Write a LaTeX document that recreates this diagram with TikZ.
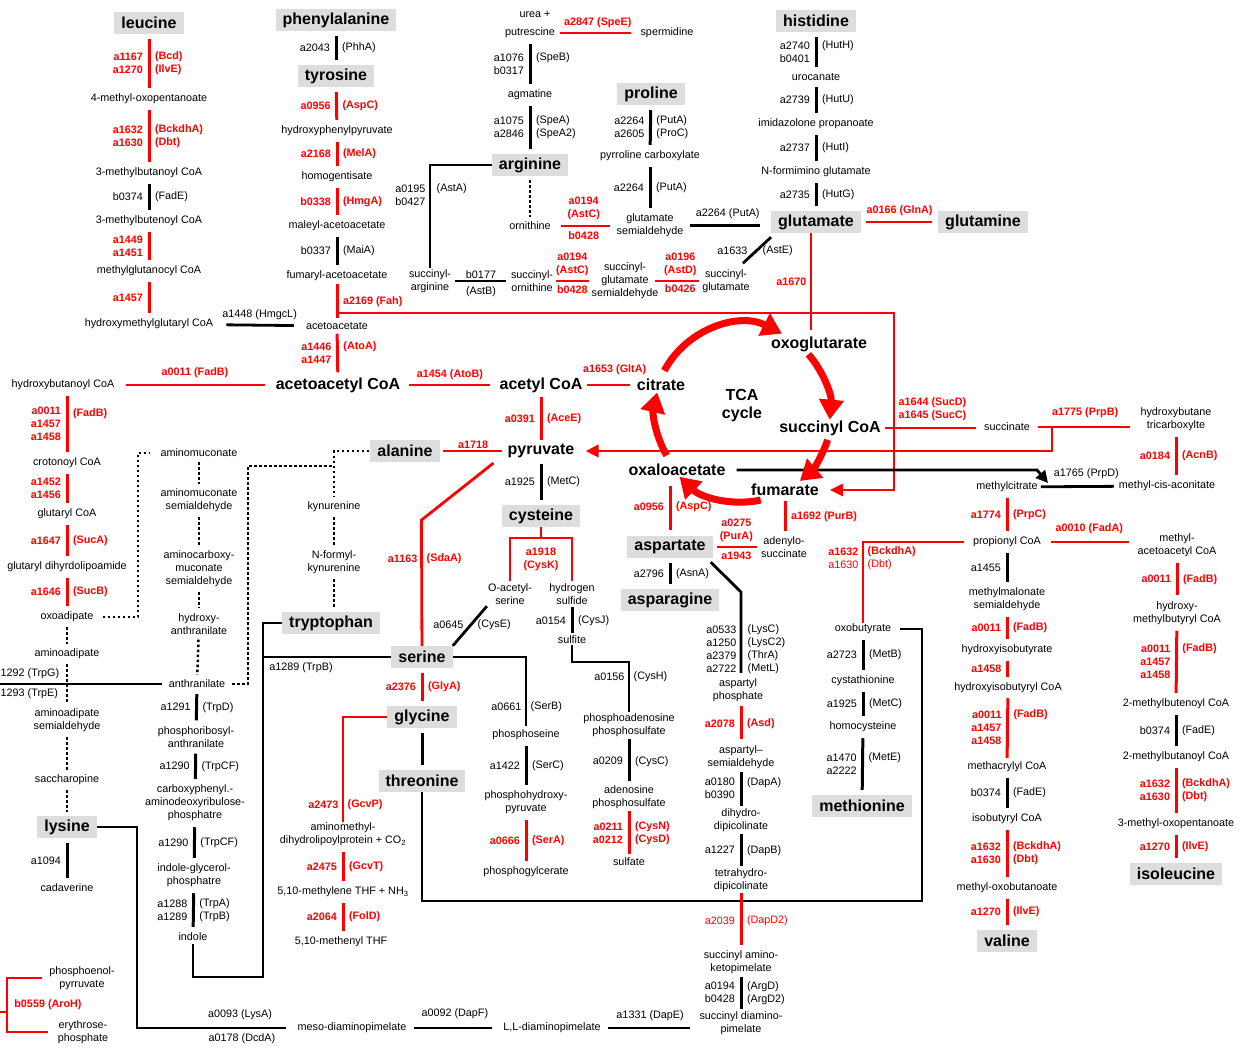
\documentclass[tikz,border=0pt]{standalone}
\usepackage{fontspec}
\setmainfont{Liberation Sans}
\usepackage{tikz}
\usetikzlibrary{arrows.meta}
\definecolor{pathred}{RGB}{255,0,0}
\definecolor{boxgray}{RGB}{221,221,221}
\tikzset{
  met/.style={font=\fontsize{10.8}{13}\selectfont, inner sep=1pt, align=center},
  amino/.style={fill=boxgray, font=\fontsize{16}{18}\selectfont\bfseries, inner xsep=7pt, inner ysep=0pt, minimum height=22pt},
  hub/.style={font=\fontsize{16}{18}\selectfont\bfseries, inner sep=1pt, align=center},
  lab/.style={font=\fontsize{10.8}{13}\selectfont, inner sep=0.5pt},
  rlab/.style={lab, text=pathred, font=\fontsize{10.8}{13}\selectfont\bfseries},
  gl/.style={lab, anchor=east, xshift=-4pt, align=right},
  gr/.style={lab, anchor=west, xshift=4pt, align=left},
  rl/.style={rlab, anchor=east, xshift=-4pt, align=right},
  rr/.style={rlab, anchor=west, xshift=4pt, align=left},
  rln/.style={rl, font=\fontsize{10.8}{13}\selectfont},
  rrn/.style={rr, font=\fontsize{10.8}{13}\selectfont},
  kline/.style={draw=black, line width=2.8pt},
  rline/.style={draw=pathred, line width=2.8pt},
  kbar/.style={kline, line width=3pt, shorten <=5pt, shorten >=5pt},
  rbar/.style={rline, line width=3pt, shorten <=5pt, shorten >=5pt},
  kh/.style={kline, shorten <=10pt, shorten >=10pt},
  rh/.style={rline, shorten <=10pt, shorten >=10pt},
  dots/.style={draw=black, line width=2.5pt, dash pattern=on 2.5pt off 2.5pt, shorten <=4pt, shorten >=4pt},
  tcaarc/.style={draw=pathred, line width=7pt, -{Triangle[length=20pt,width=24pt]}},
  redtip/.style={-{Triangle[length=13pt,width=12pt]}},
  blacktip/.style={-{Triangle[length=12pt,width=12pt]}},
}
\begin{document}
\begin{tikzpicture}[x=1pt, y=-1pt]
\useasboundingbox (0,0) rectangle (1245,1047);

% leucine
\node[amino] (leu) at (149,23) {leucine};
\node[met] (mop) at (149,99) {4-methyl-oxopentanoate};
\node[met] (mbcoa) at (149,173) {3-methylbutanoyl CoA};
\node[met] (mbecoa) at (149,221) {3-methylbutenoyl CoA};
\node[met] (mgcoa) at (149,271) {methylglutanocyl CoA};
\node[met] (hmgcoa) at (149,324) {hydroxymethylglutaryl CoA};

% phenylalanine / tyrosine
\node[amino] (phe) at (336,20) {phenylalanine};
\node[amino] (tyr) at (336,76) {tyrosine};
\node[met] (hpp) at (337,131) {hydroxyphenylpyruvate};
\node[met] (hgt) at (337,177) {homogentisate};
\node[met] (maa) at (337,226) {maleyl-acetoacetate};
\node[met] (faa) at (337,276) {fumaryl-acetoacetate};
\node[met] (aca) at (337,326) {acetoacetate};
\node[hub] (accoa) at (338,385) {acetoacetyl CoA};

% fatty acid side
\node[met] (hbcoa) at (63,385) {hydroxybutanoyl CoA};
\node[met] (crot) at (67,463) {crotonoyl CoA};
\node[met] (glcoa) at (67,514) {glutaryl CoA};
\node[met] (gdl) at (67,567) {glutaryl dihyrdolipoamide};
\node[met] (oxad) at (67,617) {oxoadipate};
\node[met] (aad) at (67,654) {aminoadipate};
\node[met] (aasa) at (67,720.5) {aminoadipate\\semialdehyde};
\node[met] (sacc) at (67,780) {saccharopine};
\node[amino] (lys) at (67,827) {lysine};
\node[met] (cad) at (67,888) {cadaverine};
\node[met] (pep) at (82,978) {phosphoenol-\\pyrruvate};
\node[met] (e4p) at (83,1032) {erythrose-\\phosphate};

% kynurenine route
\node[met] (amuc) at (199,453) {aminomuconate};
\node[met] (amsa) at (199,500.5) {aminomuconate\\semialdehyde};
\node[met] (acmsa) at (199,569) {aminocarboxy-\\muconate\\semialdehyde};
\node[met] (hanth) at (199,624) {hydroxy-\\anthranilate};
\node[met] (anth) at (197,684) {anthranilate};
\node[met] (pra) at (196,737) {phosphoribosyl-\\anthranilate};
\node[met] (cdrp) at (195,803) {carboxyphenyl.-\\aminodeoxyribulose-\\phosphatre};
\node[met] (igp) at (194,875.5) {indole-glycerol-\\phosphatre};
\node[met] (ind) at (193,937) {indole};
\node[amino] (ala) at (405,451) {alanine};
\node[met] (kyn) at (334,507) {kynurenine};
\node[met] (nfk) at (334,562.5) {N-formyl-\\kynurenine};
\node[amino] (trp) at (331,623) {tryptophan};
\node[met] (meso) at (352,1028) {meso-diaminopimelate};
\node[met] (lldap) at (552,1028) {L,L-diaminopimelate};

% serine, glycine, threonine
\node[amino] (ser) at (422,657) {serine};
\node[amino] (gly) at (422,717) {glycine};
\node[amino] (thr) at (422,781) {threonine};
\node[met] (amdlp) at (343,834.5) {aminomethyl-\\dihydrolipoylprotein + CO\textsubscript{2}};
\node[met] (mthf) at (343,892) {5,10-methylene THF + NH\textsubscript{3}};
\node[met] (menthf) at (341,942) {5,10-methenyl THF};
\node[met] (pser) at (526,735) {phosphoseine};
\node[met] (php) at (526,802.5) {phosphohydroxy-\\pyruvate};
\node[met] (pg) at (526,872) {phosphogylcerate};

% arginine, proline, histidine
\node[met] (urea) at (535,14) {urea +};
\node[met] (putr) at (530,33) {putrescine};
\node[met] (spd) at (667,33) {spermidine};
\node[met] (agm) at (530,95) {agmatine};
\node[amino] (arg) at (530,165) {arginine};
\node[met] (orn) at (530,226) {ornithine};
\node[amino] (pro) at (651,94) {proline};
\node[met] (p5c) at (650,156) {pyrroline carboxylate};
\node[met] (gsa) at (650,225.5) {glutamate\\semialdehyde};
\node[met] (sarg) at (430,281) {succinyl-\\arginine};
\node[met] (sorn) at (532,281) {succinyl-\\ornithine};
\node[met] (sgsa) at (625,281) {succinyl-\\glutamate\\semialdehyde};
\node[met] (sglu) at (726,281) {succinyl-\\glutamate};
\node[amino] (his) at (816,21) {histidine};
\node[met] (uro) at (816,77) {urocanate};
\node[met] (imp) at (816,124) {imidazolone propanoate};
\node[met] (nfg) at (816,172) {N-formimino glutamate};
\node[amino] (glu) at (816,222) {glutamate};
\node[amino] (gln) at (983,222) {glutamine};

% central carbon
\node[hub] (acoa) at (541,385) {acetyl CoA};
\node[hub] (cit) at (661,385) {citrate};
\node[hub] (pyr) at (541,451) {pyruvate};
\node[hub] (oxog) at (819,344) {oxoglutarate};
\node[hub] (sccoa) at (830,428) {succinyl CoA};
\node[hub] (oaa) at (677,470) {oxaloacetate};
\node[hub] (fum) at (785,490) {fumarate};
\node[hub] (tca) at (742,406) {TCA\\cycle};
\node[amino] (cys) at (541,516) {cysteine};
\node[met] (oas) at (510,594.5) {O-acetyl-\\serine};
\node[met] (hs) at (572,594.5) {hydrogen\\sulfide};
\node[met] (sulf) at (572,640) {sulfite};
\node[met] (paps) at (629,725) {phosphoadenosine\\phosphosulfate};
\node[met] (aps) at (629,797.5) {adenosine\\phosphosulfate};
\node[met] (so4) at (629,862) {sulfate};

% aspartate family
\node[amino] (asp) at (670,547) {aspartate};
\node[met] (adsucc) at (784,547) {adenylo-\\succinate};
\node[amino] (asn) at (670,600) {asparagine};
\node[met] (asph) at (738,690.5) {aspartyl\\phosphate};
\node[met] (asa) at (741,757) {aspartyl--\\semialdehyde};
\node[met] (dhdp) at (741,820.5) {dihydro-\\dipicolinate};
\node[met] (thdp) at (741,880) {tetrahydro-\\dipicolinate};
\node[met] (skp) at (741,962) {succinyl amino-\\ketopimelate};
\node[met] (sdap) at (741,1023.5) {succinyl diamino-\\pimelate};

% propionate side
\node[met] (succ) at (1007,427) {succinate};
\node[met] (hbtc) at (1176,419) {hydroxybutane\\tricarboxylte};
\node[met] (mca) at (1167,486) {methyl-cis-aconitate};
\node[met] (mcit) at (1007,487) {methylcitrate};
\node[met] (pcoa) at (1007,542) {propionyl CoA};
\node[met] (macoa) at (1177,545.5) {methyl-\\acetoacetyl CoA};
\node[met] (mms) at (1007,599.5) {methylmalonate\\semialdehyde};
\node[met] (hib) at (1007,650) {hydroxyisobutyrate};
\node[met] (hibcoa) at (1008,688) {hydroxyisobutyryl CoA};
\node[met] (mcrcoa) at (1007,767) {methacrylyl CoA};
\node[met] (ibcoa) at (1007,819) {isobutyryl CoA};
\node[met] (mob) at (1007,888) {methyl-oxobutanoate};
\node[amino] (val) at (1007,941) {valine};
\node[met] (hmbcoa) at (1177,613) {hydroxy-\\methylbutyryl CoA};
\node[met] (mbecoa2) at (1176,704) {2-methylbutenoyl CoA};
\node[met] (mbcoa2) at (1176,757) {2-methylbutanoyl CoA};
\node[met] (mop2) at (1176,824) {3-methyl-oxopentanoate};
\node[amino] (ile) at (1176,874) {isoleucine};
\node[met] (oxob) at (863,629) {oxobutyrate};
\node[met] (cysta) at (863,681) {cystathionine};
\node[met] (hcys) at (863,727) {homocysteine};
\node[amino] (metn) at (862,806) {methionine};

% corner points
\coordinate (fahturn) at (894,313);
\coordinate (prpbj) at (1052,427);
\coordinate (oaaj) at (1037,470);
\coordinate (prpdj) at (1048,483);
\coordinate (dk1) at (138,453);
\coordinate (dk2) at (248,466);
\coordinate (dk3) at (334,466);
\coordinate (trpg) at (0,684);
\coordinate (tc1) at (263,977);
\coordinate (lc1) at (137,1028);
\coordinate (aroh) at (7,1005);
\coordinate (arol) at (0,1012);
\coordinate (thc) at (922,901);
\coordinate (cysk) at (541,538);
\coordinate (lysc) at (741,592);
\coordinate (tcacen) at (742,412);

% leucine route
\draw[rbar] (leu) -- node[rl] (bcd1) {a1167\\a1270} node[rr] (bcd2) {(Bcd)\\(IlvE)} (mop);
\draw[rbar] (mop) -- node[rl] (bck1) {a1632\\a1630} node[rr] (bck2) {(BckdhA)\\(Dbt)} (mbcoa);
\draw[kbar] (mbcoa) -- node[gl] (fade1) {b0374} node[gr] (fade2) {(FadE)} (mbecoa);
\draw[rbar] (mbecoa) -- node[rl] (lu1) {a1449\\a1451} (mgcoa);
\draw[rbar] (mgcoa) -- node[rl] (lu2) {a1457} (hmgcoa);
\draw[kh, shorten <=12pt, shorten >=11pt] (hmgcoa) -- node[lab, above=4pt] (hmgcl) {a1448 (HmgcL)} (aca);

% tyrosine route
\draw[kbar] (phe) -- node[gl] (phha1) {a2043} node[gr] (phha2) {(PhhA)} (tyr);
\draw[rbar] (tyr) -- node[rl] (aspc1) {a0956} node[rr] (aspc2) {(AspC)} (hpp);
\draw[rbar] (hpp) -- node[rl] (mela1) {a2168} node[rr] (mela2) {(MelA)} (hgt);
\draw[rbar] (hgt) -- node[rl] (hmga1) {b0338} node[rr] (hmga2) {(HmgA)} (maa);
\draw[kbar] (maa) -- node[gl] (maia1) {b0337} node[gr] (maia2) {(MaiA)} (faa);
\draw[rbar, shorten <=2pt, shorten >=3pt] (faa) -- node[rr] (fah) {a2169 (Fah)} (aca);
\draw[rline, redtip, shorten >=10pt] (aca.north |- fahturn) -- (fahturn) |- (fum);
\draw[rbar, shorten <=3pt, shorten >=4pt] (aca) -- node[rl] (atoa1) {a1446\\a1447} node[rr, yshift=6.5pt] (atoa2) {(AtoA)} (accoa);

% acetoacetyl CoA row
\draw[rh] (hbcoa) -- node[rlab, above=5pt] (fadb0) {a0011 (FadB)} (accoa);
\draw[rh, shorten <=8pt, shorten >=8pt] (accoa) -- node[rlab, above=3pt] (atob) {a1454 (AtoB)} (acoa);
\draw[rh, shorten <=3pt, shorten >=6pt] (acoa) -- node[rlab, above=8pt, xshift=5pt] (glta) {a1653 (GltA)} (cit);

% hydroxybutanoyl to oxoadipate
\draw[rbar] (crot |- hbcoa.south) -- node[rl] (fb1) {a0011\\a1457\\a1458} node[rr, yshift=10pt] (fb2) {(FadB)} (crot);
\draw[rbar] (crot) -- node[rl] (cr1) {a1452\\a1456} (glcoa);
\draw[rbar] (glcoa) -- node[rl] (suca1) {a1647} node[rr] (suca2) {(SucA)} (gdl);
\draw[rbar] (gdl) -- node[rl] (sucb1) {a1646} node[rr] (sucb2) {(SucB)} (oxad);

% lysine route
\draw[dots] (oxad) -- (aad);
\draw[dots] (aad) -- (aasa);
\draw[dots] (aasa) -- (sacc);
\draw[dots] (sacc) -- (lys);
\draw[kbar] (lys) -- node[gl] (lysk) {a1094} (cad);
\draw[kline, shorten >=10pt] (lys) -| (lc1) -- (meso);
\node[lab] (lysa) at (240,1015) {a0093 (LysA)};
\node[lab] (dcda) at (242,1039) {a0178 (DcdA)};
\draw[kh, shorten <=6pt, shorten >=10pt] (meso) -- node[lab, above=7pt] (dapf) {a0092 (DapF)} (lldap);
\draw[kh, shorten <=6pt, shorten >=8pt] (lldap) -- node[lab, above=5pt] (dape) {a1331 (DapE)} (lldap -| sdap.west);

% aroH
\draw[rline, shorten <=6pt, shorten >=9pt] (pep) -| (aroh) |- (e4p);
\draw[rline] (arol) -- (arol -| aroh);
\node[rlab] (aroh1) at (48,1005) {b0559 (AroH)};

% tryptophan and kynurenine
\draw[kline, shorten >=6pt] (trpg) -- (anth);
\node[lab, anchor=west] (trpgl) at (0,674) {1292 (TrpG)};
\node[lab, anchor=west] (trpel) at (0,694) {1293 (TrpE)};
\draw[dots, shorten <=8pt, shorten >=9pt] (oxad) -| (dk1) -- (amuc);
\draw[dots] (amuc) -- (amsa);
\draw[dots] (amsa) -- (acmsa);
\draw[dots] (acmsa) -- (hanth);
\draw[dots] (hanth) -- (anth);
\draw[dots, shorten <=6pt, shorten >=0pt] (anth) -| (dk2) -- (dk3);
\draw[dots, shorten <=1pt] (ala) -| (kyn);
\draw[dots] (kyn) -- (nfk);
\draw[dots] (nfk) -- (nfk |- trp.north);
\draw[kbar] (anth) -- node[gl] (trpd1) {a1291} node[gr] (trpd2) {(TrpD)} (pra);
\draw[kbar] (pra) -- node[gl] (trpc1) {a1290} node[gr] (trpc2) {(TrpCF)} (cdrp);
\draw[kbar] (cdrp) -- node[gl] (trpc3) {a1290} node[gr] (trpc4) {(TrpCF)} (igp);
\draw[kbar] (igp) -- node[gl] (trpab1) {a1288\\a1289} node[gr] (trpab2) {(TrpA)\\(TrpB)} (ind);
\draw[kline, shorten >=2pt] (trp) -| (tc1) -| (ind);
\draw[kline] (ser) -- (ser -| tc1);
\node[lab] (trpb) at (301,668) {a1289 (TrpB)};

% serine, glycine, threonine
\draw[rline] (pyr.south west) ++(-13,4) -- ++(-72,57) -- (ser);
\node[rl] (sdaa1) at (422,559) {a1163};
\node[rr] (sdaa2) at (422,559) {(SdaA)};
\draw[rbar] (ser) -- node[rl] (glya1) {a2376} node[rr] (glya2) {(GlyA)} (gly);
\draw[kbar] (gly) -- (thr);
\draw[rline] (gly) -| (amdlp);
\node[rl] (gcvp1) at (343,805) {a2473};
\node[rr] (gcvp2) at (343,805) {(GcvP)};
\draw[rbar] (amdlp) -- node[rl] (gcvt1) {a2475} node[rr] (gcvt2) {(GcvT)} (mthf);
\draw[rbar] (mthf) -- node[rl] (fold1) {a2064} node[rr] (fold2) {(FolD)} (mthf |- menthf.north);
\draw[kline, shorten >=8pt] (thr) |- (thc) |- (oxob);
\draw[kline, shorten >=3pt] (ser) -| (pser);
\node[gl] (serb1) at (526,707) {a0661};
\node[gr] (serb2) at (526,707) {(SerB)};
\draw[kbar] (pser) -- node[gl] (serc1) {a1422} node[gr] (serc2) {(SerC)} (php);
\draw[rbar] (php) -- node[rl] (sera1) {a0666} node[rr] (sera2) {(SerA)} (pg);
\draw[kline] (ser.north east) -- (oas.south west);
\node[lab, anchor=east] (cyse1) at (464,625) {a0645};
\node[lab, anchor=west] (cyse2) at (477,625) {(CysE)};

% arginine and proline
\draw[rh, shorten <=4pt, shorten >=8pt] (putr) -- node[rlab, above=3pt] (spee) {a2847 (SpeE)} (spd);
\draw[kbar] (putr) -- node[gl] (speb1) {a1076\\b0317} node[gr, yshift=6.5pt] (speb2) {(SpeB)} (agm);
\draw[kbar] (agm) -- node[gl] (spea1) {a1075\\a2846} node[gr] (spea2) {(SpeA)\\(SpeA2)} (arg);
\draw[dots] (arg) -- (orn);
\draw[rh, shorten <=9pt, shorten >=5pt] (orn) -- node[rlab, above=4pt, align=center] (astc1) {a0194\\(AstC)} node[rlab, below=4pt] (astc2) {b0428} (orn -| gsa.west);
\draw[kbar] (pro) -- node[gl] (puta1) {a2264\\a2605} node[gr] (puta2) {(PutA)\\(ProC)} (p5c);
\draw[kbar] (p5c) -- node[gl] (puta3) {a2264} node[gr] (puta4) {(PutA)} (gsa);
\draw[kh, shorten <=5pt, shorten >=11pt] (gsa) -- node[lab, above=5pt] (puta5) {a2264 (PutA)} (gsa -| glu.west);
\draw[kline] (arg) -| (sarg);
\node[gl] (asta1) at (430,195.5) {a0195\\b0427};
\node[gr, xshift=2pt] (asta2) at (430,189) {(AstA)};
\draw[kh, shorten <=3pt, shorten >=4pt] (sarg) -- node[lab, above=1pt] (astb1) {b0177} node[lab, below=4pt] (astb2) {(AstB)} (sorn);
\draw[rh, shorten <=2pt, shorten >=1pt] (sorn) -- node[rlab, above=3pt, align=center] (astc3) {a0194\\(AstC)} node[rlab, below=3pt] (astc4) {b0428} (sgsa);
\draw[rh, shorten <=-5pt, shorten >=2pt] (sgsa) -- node[rlab, above=3pt, align=center] (astd1) {a0196\\(AstD)} node[rlab, below=2pt] (astd2) {b0426} (sglu);
\draw[kline] ([xshift=-8pt,yshift=5pt]sglu.north east) -- ([yshift=-4pt]glu.south west);
\node[lab, anchor=east] (aste1) at (748,251) {a1633};
\node[lab, anchor=west] (aste2) at (762,251) {(AstE)};

% histidine
\draw[kbar] (his) -- node[gl] (huth1) {a2740\\b0401} node[gr, yshift=6.5pt] (huth2) {(HutH)} (uro);
\draw[kbar] (uro) -- node[gl] (hutu1) {a2739} node[gr] (hutu2) {(HutU)} (imp);
\draw[kbar] (imp) -- node[gl] (huti1) {a2737} node[gr] (huti2) {(HutI)} (nfg);
\draw[kbar] (nfg) -- node[gl] (hutg1) {a2735} node[gr] (hutg2) {(HutG)} (glu);
\draw[rh, shorten <=5pt, shorten >=6pt] (glu) -- node[rlab, above=4pt] (glna) {a0166 (GlnA)} (gln);
\draw[rline, shorten >=5pt] ([xshift=-5pt]glu.south) -- ([xshift=-5pt]glu.south |- oxog.north);
\node[rl] (a1670) at (811,282) {a1670};

% pyruvate and cysteine
\draw[rbar, shorten <=3pt, shorten >=3pt] (acoa) -- node[rl] (acee1) {a0391} node[rr] (acee2) {(AceE)} (pyr);
\draw[rh, shorten <=3pt, shorten >=4pt] (ala) -- node[rlab, above=1pt] (a1718) {a1718} (pyr);
\draw[kbar] (pyr) -- node[gl] (metc1) {a1925} node[gr] (metc2) {(MetC)} (cys);
\draw[rline] (cys) -- (cysk);
\draw[rline, shorten >=2pt] (cysk) -| (oas);
\draw[rline, shorten >=2pt] (cysk) -| (hs);
\node[rlab, align=center] (cyskl) at (541,559.5) {a1918\\(CysK)};
\draw[kbar, shorten <=1pt, shorten >=2pt] (hs) -- node[gl] (cysj1) {a0154} node[gr] (cysj2) {(CysJ)} (sulf);
\draw[kline] (sulf) -- ++(0,22) -| (paps);
\node[gl] (cysh1) at (629,677) {a0156};
\node[gr] (cysh2) at (629,677) {(CysH)};
\draw[kbar, shorten <=1pt, shorten >=4pt] (paps) -- node[gl] (cysc1) {a0209} node[gr] (cysc2) {(CysC)} (aps);
\draw[rbar, shorten <=1pt, shorten >=3pt] (aps) -- node[rl] (cysn1) {a0211\\a0212} node[rr] (cysn2) {(CysN)\\(CysD)} (so4);

% aspartate family
\draw[rbar, shorten <=9pt, shorten >=6pt] (asp |- oaa.south) -- node[rl] (aspc3) {a0956} node[rr] (aspc4) {(AspC)} (asp);
\draw[rh, shorten <=4pt, shorten >=3pt] (asp) -- node[rlab, above=3pt, align=center] (pura1) {a0275\\(PurA)} node[rlab, below=3pt] (pura2) {a1943} (adsucc);
\draw[rbar, shorten <=4pt, shorten >=4pt] (fum) -- node[rr] (purb) {a1692 (PurB)} (fum |- adsucc.north);
\draw[kbar] (asp) -- node[gl] (asna1) {a2796} node[gr] (asna2) {(AsnA)} (asn);
\draw[kline, shorten >=5pt] ([xshift=-2pt,yshift=-4pt]asp.south east) -- (lysc) -- (lysc |- asph.north);
\node[gl] (lysc1) at (741,649) {a0533\\a1250\\a2379\\a2722};
\node[gr, xshift=2pt] (lysc2) at (741,649) {(LysC)\\(LysC2)\\(ThrA)\\(MetL)};
\draw[rbar, shorten <=3pt] (asa |- asph.south) -- node[rl] (asd1) {a2078} node[rr] (asd2) {(Asd)} (asa);
\draw[kbar, shorten <=2pt, shorten >=2pt] (asa) -- node[gl] (dapa1) {a0180\\b0390} node[gr, yshift=6.5pt] (dapa2) {(DapA)} (dhdp);
\draw[kbar, shorten <=1pt, shorten >=1pt] (dhdp) -- node[gl] (dapb1) {a1227} node[gr] (dapb2) {(DapB)} (thdp);
\draw[rbar, shorten <=0pt, shorten >=4pt] (thdp) -- node[rln] (dapd1) {a2039} node[rrn] (dapd2) {(DapD2)} (skp);
\draw[kbar, shorten <=2pt, shorten >=2pt] (skp) -- node[gl] (argd1) {a0194\\b0428} node[gr] (argd2) {(ArgD)\\(ArgD2)} (sdap);

% propionate and branched chains
\draw[rh, shorten <=3pt, shorten >=7pt] (sccoa) -- node[rlab, above=5pt, align=left] (sucd) {a1644 (SucD)\\a1645 (SucC)} (sccoa -| succ.west);
\draw[rh, shorten <=7pt, shorten >=9pt] (succ) -- node[rlab, above=7pt] (prpb) {a1775 (PrpB)} (succ -| hbtc.west);
\draw[rline, redtip, shorten >=10pt] (prpbj) |- (pyr);
\draw[rbar] (hbtc) -- node[rl] (acnb1) {a0184} node[rr] (acnb2) {(AcnB)} (hbtc |- mca.north);
\draw[kh, shorten <=2pt, shorten >=4pt] (mcit) -- node[lab, above=6pt, xshift=8pt] (prpd) {a1765 (PrpD)} (mca);
\draw[kline, blacktip, shorten <=10pt] (oaa) -- (oaaj) -- (prpdj);
\draw[rbar] (mcit) -- node[rl] (prpc1) {a1774} node[rr] (prpc2) {(PrpC)} (pcoa);
\draw[rh, shorten <=9pt, shorten >=7pt] (pcoa) -- node[rlab, above=6pt] (fada) {a0010 (FadA)} (pcoa -| macoa.west);
\draw[rline, shorten <=8pt] (pcoa) -| (oxob);
\node[rln] (bck3) at (863,558.5) {\textbf{a1632}\\a1630};
\node[rrn] (bck4) at (863,558.5) {\textbf{(BckdhA)}\\(Dbt)};
\draw[kbar] (oxob) -- node[gl] (metb1) {a2723} node[gr] (metb2) {(MetB)} (cysta);
\draw[kbar] (cysta) -- node[gl] (metc3) {a1925} node[gr] (metc4) {(MetC)} (hcys);
\draw[kbar] (hcys) -- node[gl] (mete1) {a1470\\a2222} node[gr, yshift=6.5pt] (mete2) {(MetE)} (metn);
\draw[kbar] (pcoa) -- node[gl] (mm1) {a1455} (mms);
\draw[rbar] (mms) -- node[rl] (fb3) {a0011} node[rr] (fb4) {(FadB)} (hib);
\draw[rbar] (hib) -- node[rl] (hi1) {a1458} (hibcoa);
\draw[rbar, shorten <=4pt, shorten >=3pt] (hibcoa) -- node[rl] (fb5) {a0011\\a1457\\a1458} node[rr, yshift=13pt] (fb6) {(FadB)} (mcrcoa);
\draw[kbar] (mcrcoa) -- node[gl] (fade3) {b0374} node[gr] (fade4) {(FadE)} (ibcoa);
\draw[rbar] (ibcoa) -- node[rl] (bck5) {a1632\\a1630} node[rr] (bck6) {(BckdhA)\\(Dbt)} (mob);
\draw[rbar] (mob) -- node[rl] (ilve1) {a1270} node[rr] (ilve2) {(IlvE)} (val);
\draw[rbar] (macoa) -- node[rl] (fb7) {a0011} node[rr] (fb8) {(FadB)} (hmbcoa);
\draw[rbar] (hmbcoa) -- node[rl] (fb9) {a0011\\a1457\\a1458} node[rr, yshift=13pt] (fb10) {(FadB)} (mbecoa2);
\draw[kbar] (mbecoa2) -- node[gl] (fade5) {b0374} node[gr] (fade6) {(FadE)} (mbcoa2);
\draw[rbar] (mbcoa2) -- node[rl] (bck7) {a1632\\a1630} node[rr] (bck8) {(BckdhA)\\(Dbt)} (mop2);
\draw[rbar] (mop2) -- node[rl] (ilve3) {a1270} node[rr] (ilve4) {(IlvE)} (ile);

% TCA cycle
\draw[tcaarc] (tcacen) ++(208:88) arc[start angle=208, end angle=297, radius=88];
\draw[tcaarc] (tcacen) ++(319:88) arc[start angle=319, end angle=365, radius=88];
\draw[tcaarc] (tcacen) ++(18:90) arc[start angle=18, end angle=50, radius=90];
\draw[tcaarc] (tcacen) ++(78:90) arc[start angle=78, end angle=134, radius=90];
\draw[tcaarc] (tcacen) ++(150:87) arc[start angle=150, end angle=193, radius=87];
\end{tikzpicture}
\end{document}
